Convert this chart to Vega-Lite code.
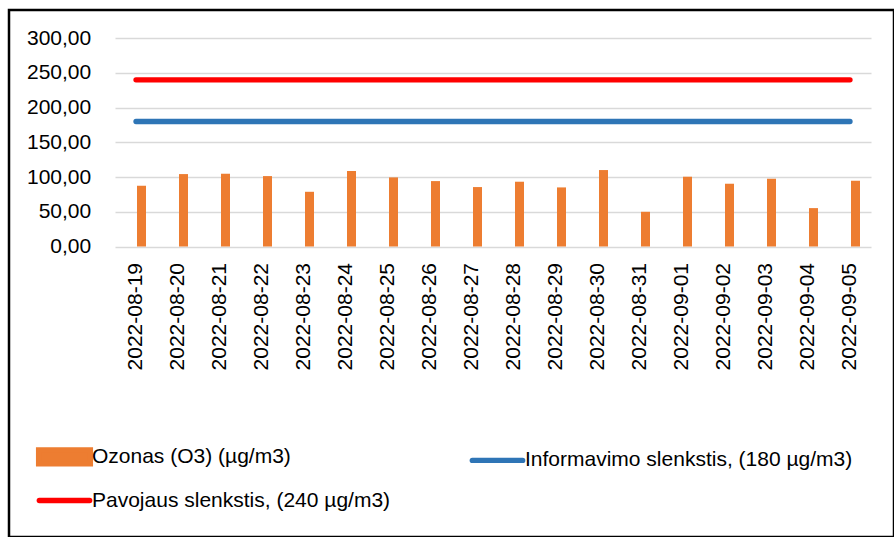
{
  "$schema": "https://vega.github.io/schema/vega-lite/v6.json",
  "width": 885,
  "height": 527,
  "autosize": "none",
  "padding": {"left": 9, "top": 10, "right": 0, "bottom": 0},
  "background": "white",
  "config": {
    "view": {"stroke": "#000", "strokeWidth": 2.5},
    "font": "Liberation Sans"
  },
  "data": {
    "values": [
      {"date": "2022-08-19", "o3": 87.5, "info": 180, "pav": 240},
      {"date": "2022-08-20", "o3": 104.3, "info": 180, "pav": 240},
      {"date": "2022-08-21", "o3": 104.8, "info": 180, "pav": 240},
      {"date": "2022-08-22", "o3": 101.4, "info": 180, "pav": 240},
      {"date": "2022-08-23", "o3": 78.8, "info": 180, "pav": 240},
      {"date": "2022-08-24", "o3": 108.7, "info": 180, "pav": 240},
      {"date": "2022-08-25", "o3": 99.5, "info": 180, "pav": 240},
      {"date": "2022-08-26", "o3": 94.2, "info": 180, "pav": 240},
      {"date": "2022-08-27", "o3": 85.6, "info": 180, "pav": 240},
      {"date": "2022-08-28", "o3": 93.3, "info": 180, "pav": 240},
      {"date": "2022-08-29", "o3": 85.1, "info": 180, "pav": 240},
      {"date": "2022-08-30", "o3": 110.1, "info": 180, "pav": 240},
      {"date": "2022-08-31", "o3": 50.0, "info": 180, "pav": 240},
      {"date": "2022-09-01", "o3": 100.5, "info": 180, "pav": 240},
      {"date": "2022-09-02", "o3": 90.4, "info": 180, "pav": 240},
      {"date": "2022-09-03", "o3": 97.6, "info": 180, "pav": 240},
      {"date": "2022-09-04", "o3": 55.3, "info": 180, "pav": 240},
      {"date": "2022-09-05", "o3": 94.7, "info": 180, "pav": 240}
    ]
  },
  "encoding": {
    "x": {
      "field": "date",
      "type": "ordinal",
      "sort": null,
      "title": null,
      "scale": {"range": [106, 862], "paddingInner": 0, "paddingOuter": 0},
      "axis": {
        "offset": -290.5,
        "labelAngle": -90,
        "labelFont": "Liberation Sans",
        "labelFontSize": 21,
        "labelColor": "#000",
        "labelPadding": 16,
        "ticks": false,
        "tickSize": 0,
        "domain": false,
        "grid": false
      }
    }
  },
  "layer": [
    {
      "mark": {"type": "bar", "width": 9, "xOffset": 5.5, "color": "#ED7D31"},
      "encoding": {
        "y": {
          "field": "o3",
          "type": "quantitative",
          "title": null,
          "scale": {"domain": [0, 300], "range": [236.5, 28.2], "nice": false},
          "axis": {
            "values": [0, 50, 100, 150, 200, 250, 300],
            "labelExpr": "replace(format(datum.value, '.2f'), '.', ',')",
            "offset": -85.7,
            "labelFont": "Liberation Sans",
            "labelFontSize": 21,
            "labelColor": "#000",
            "labelPadding": 4,
            "ticks": false,
            "tickSize": 0,
            "domain": false,
            "grid": true,
            "gridColor": "#D9D9D9",
            "gridWidth": 1.5
          }
        },
        "color": {
          "datum": "Ozonas (O3) (µg/m3)",
          "type": "nominal",
          "scale": {
            "domain": ["Ozonas (O3) (µg/m3)", "Informavimo slenkstis, (180 µg/m3)", "Pavojaus slenkstis, (240 µg/m3)"],
            "range": ["#ED7D31", "#2E75B6", "#FF0000"]
          },
          "legend": {
            "title": null,
            "orient": "none",
            "legendX": 45,
            "legendY": 436,
            "padding": 0,
            "columns": 2,
            "columnPadding": 70,
            "rowPadding": 14,
            "values": ["Ozonas (O3) (µg/m3)", "Pavojaus slenkstis, (240 µg/m3)", "Informavimo slenkstis, (180 µg/m3)"],
            "labelFont": "Liberation Sans",
            "labelFontSize": 21,
            "labelColor": "#000",
            "labelLimit": 600,
            "labelOffset": 17,
            "symbolSize": 196,
            "encode": {
              "symbols": {
                "update": {
                  "shape": [
                    {"test": "datum.value === 'Ozonas (O3) (µg/m3)'", "value": "M-3.7,-1H3.7V1H-3.7Z"},
                    {"value": "M-3.6,0H3.6"}
                  ],
                  "fill": [
                    {"test": "datum.value === 'Ozonas (O3) (µg/m3)'", "value": "#ED7D31"},
                    {"value": "transparent"}
                  ],
                  "stroke": [
                    {"test": "datum.value === 'Ozonas (O3) (µg/m3)'", "value": "transparent"},
                    {"test": "datum.value === 'Informavimo slenkstis, (180 µg/m3)'", "value": "#2E75B6"},
                    {"value": "#FF0000"}
                  ],
                  "strokeWidth": {"value": 5.3},
                  "strokeCap": {"value": "round"},
                  "opacity": {"value": 1},
                  "fillOpacity": {"value": 1},
                  "strokeOpacity": {"value": 1}
                }
              }
            }
          }
        }
      }
    },
    {
      "mark": {"type": "line", "strokeWidth": 5.3, "strokeCap": "round", "color": "#2E75B6"},
      "encoding": {
        "y": {"field": "info", "type": "quantitative"},
        "color": {"datum": "Informavimo slenkstis, (180 µg/m3)", "type": "nominal"}
      }
    },
    {
      "mark": {"type": "line", "strokeWidth": 5.3, "strokeCap": "round", "color": "#FF0000"},
      "encoding": {
        "y": {"field": "pav", "type": "quantitative"},
        "color": {"datum": "Pavojaus slenkstis, (240 µg/m3)", "type": "nominal"}
      }
    }
  ]
}
